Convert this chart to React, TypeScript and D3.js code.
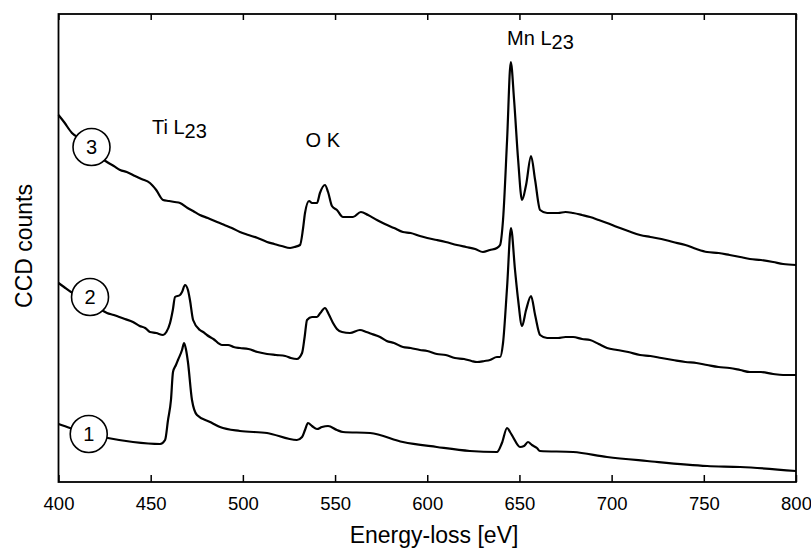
import React, { useEffect, useRef } from "react";
import * as d3 from "d3";

// energy-loss [eV], counts (arbitrary units)
const spectrum1: [number, number][] = [
  [400, 58], [406.2, 54], [417.1, 48], [426.8, 44], [440.4, 40], [455.1, 38],
  [457.8, 42], [459.4, 62], [461, 82], [462.1, 110], [463.7, 117], [464.8, 122],
  [467, 132], [468.1, 139], [469.2, 132], [470.2, 120], [472.4, 82], [475.1, 67],
  [482.2, 60], [487.6, 55], [498.4, 51], [513.1, 49], [529.3, 42], [532.1, 45],
  [533.7, 52], [535.3, 59], [537.5, 56], [540.2, 53], [542.9, 55], [546.2, 56],
  [551, 52], [554.3, 50], [569, 49], [586.8, 40], [605.2, 35], [623.1, 31],
  [637.8, 30], [640.5, 39], [643.3, 54], [644.9, 50], [646.5, 45], [650.3, 35],
  [652.5, 36], [654.6, 40], [656.8, 37], [659.5, 34], [661.1, 31], [679.1, 30],
  [697.5, 25], [719.2, 21], [751.8, 16], [769.7, 15], [800, 11],
];

const spectrum2: [number, number][] = [
  [400, 199], [403, 195], [406.8, 190], [412, 186], [417.1, 180], [421, 175],
  [426.3, 169], [430, 167], [433, 165], [436, 163], [440.4, 160], [444, 156],
  [447, 154], [449.6, 150], [453, 149], [456.7, 147], [458.5, 150], [460.5, 159],
  [462, 172], [463.2, 185], [465.9, 187], [467, 190], [468.6, 197], [470.2, 192],
  [471.3, 182], [473, 162], [476.7, 152], [478.5, 150], [480.5, 147], [484, 143],
  [488.7, 137], [492, 137], [495, 135], [498.4, 134], [503, 133], [508, 130],
  [513.1, 128], [518, 127], [523, 126], [526, 124], [529.3, 123], [532.1, 129],
  [533.5, 145], [534.8, 162], [537.5, 165], [540.2, 165], [542, 169], [544.5, 174],
  [546.5, 168], [548.9, 159], [551, 153], [553.8, 150], [558.1, 149], [563.5, 152],
  [567, 150], [570, 148], [574.4, 145], [578, 141], [582, 139], [586.8, 135],
  [591, 134], [596, 132], [600, 131], [605.2, 128], [610, 127], [615, 124],
  [620, 123], [624, 121], [627, 120], [631, 121], [634, 122], [637.8, 125],
  [639.5, 125], [641.1, 139], [643.3, 195], [645.4, 254], [647.6, 212], [649.3, 182],
  [651.4, 156], [653.6, 172], [656.3, 186], [658.5, 167], [661.2, 147], [665, 144],
  [671, 144], [675, 145], [679.1, 145], [684, 143], [688.3, 142], [693, 138],
  [697.5, 134], [703, 132], [709, 130], [715.4, 127], [721, 126], [727, 124],
  [733.3, 122], [740, 120], [746, 119], [751.8, 117], [758, 115], [764, 114],
  [769.7, 112], [775, 110], [781, 110], [787.6, 108], [793, 107], [800, 107],
];

const spectrum3: [number, number][] = [
  [400, 367], [403, 360], [407.3, 349], [412, 343], [417.1, 335], [421, 327],
  [426.3, 320], [430, 316], [433.4, 312], [437, 310], [441.5, 306], [445, 303],
  [449.6, 299], [453, 292], [456.7, 282], [460, 281], [463, 280], [465.9, 279],
  [470, 274], [473, 271], [476.7, 267], [481, 264], [486, 260], [490, 257],
  [494, 254], [498.4, 250], [503, 247], [508, 244], [513.1, 240], [517, 238],
  [521, 236], [525.6, 234], [528, 235], [531, 237], [532.6, 253], [533.7, 269],
  [535.9, 281], [537.5, 279], [540.2, 279], [541.8, 289], [544.5, 297], [546.2, 290],
  [548.3, 276], [551, 272], [554.3, 265], [559.7, 265], [564, 270], [567.9, 267],
  [572.7, 262], [577, 258], [582, 254], [586.8, 250], [591, 249], [596, 246],
  [600, 244], [605.2, 242], [610, 240], [616.1, 237], [621, 235], [626, 233],
  [630.2, 230], [634, 232], [637.8, 234], [639.5, 237], [641.1, 262], [643.3, 342],
  [645.3, 420], [647.1, 382], [649.3, 322], [651.4, 282], [653.6, 297], [656.3, 326],
  [658.5, 302], [661.2, 272], [665, 269], [671, 269], [675, 270], [679.1, 269],
  [684, 267], [688.3, 265], [693, 262], [697.5, 259], [703, 255], [709, 251],
  [715.4, 247], [721, 245], [727, 243], [733.3, 240], [740, 237], [746, 233],
  [751.8, 230], [758, 229], [764, 227], [769.7, 225], [775, 223], [781, 222],
  [787.6, 220], [793, 218], [800, 217],
];

const spectra = [spectrum1, spectrum2, spectrum3];

// numbered circle markers: [energy, counts, label]
const markers: [number, number, string][] = [
  [416.4, 48, "1"],
  [417.1, 185, "2"],
  [417.9, 335, "3"],
];

// edge labels: [energy, counts, element, subscript]
const edges: [number, number, string, string][] = [
  [450.7, 348, "Ti L", "23"],
  [534, 335, "O K", ""],
  [643.3, 437, "Mn L", "23"],
];

const xTicks = [400, 450, 500, 550, 600, 650, 700, 750, 800];

const App = () => {
  const ref = useRef<SVGSVGElement>(null);

  useEffect(() => {
    drawChart();
  }, []);

  const drawChart = () => {
    const svg = d3.select(ref.current);
    svg.selectAll("*").remove();
    const font = "'Liberation Sans', Arial, sans-serif";

    const left = 58.5;
    const right = 796;
    const top = 14;
    const bottom = 482;

    const x = d3.scaleLinear().domain([400, 800]).range([left, right]);
    const y = d3.scaleLinear().domain([0, 468]).range([bottom, top]);

    const line = d3
      .line<[number, number]>()
      .x((d) => x(d[0]))
      .y((d) => y(d[1]))
      .curve(d3.curveMonotoneX);

    // spectra
    svg
      .selectAll(".spec")
      .data(spectra)
      .enter()
      .append("path")
      .attr("class", "spec")
      .attr("fill", "none")
      .attr("stroke", "#000")
      .attr("stroke-width", 2.2)
      .attr("stroke-linejoin", "round")
      .attr("d", (d) => line(d));

    // frame
    svg
      .append("rect")
      .attr("x", left)
      .attr("y", top)
      .attr("width", right - left)
      .attr("height", bottom - top)
      .attr("fill", "none")
      .attr("stroke", "#000")
      .attr("stroke-width", 1.8);

    // bottom axis, ticks pointing in
    const xAxis = svg
      .append("g")
      .attr("transform", `translate(0,${bottom})`)
      .call(d3.axisBottom(x).tickValues(xTicks).tickSize(-7).tickPadding(0).tickSizeOuter(0));
    xAxis.select(".domain").remove();
    xAxis.selectAll(".tick line").attr("stroke", "#000").attr("stroke-width", 1.5);
    xAxis
      .selectAll(".tick text")
      .attr("y", 28)
      .attr("dy", 0)
      .attr("font-family", font)
      .attr("font-size", 18.5)
      .attr("fill", "#000");

    // top ticks
    const topAxis = svg
      .append("g")
      .attr("transform", `translate(0,${top})`)
      .call(d3.axisTop(x).tickValues(xTicks).tickSize(-6).tickFormat(() => "").tickSizeOuter(0));
    topAxis.select(".domain").remove();
    topAxis.selectAll(".tick line").attr("stroke", "#000").attr("stroke-width", 1.5);

    // axis titles
    svg
      .append("text")
      .attr("x", 434)
      .attr("y", 543)
      .attr("text-anchor", "middle")
      .attr("font-family", font)
      .attr("font-size", 23)
      .text("Energy-loss [eV]");

    svg
      .append("text")
      .attr("transform", `translate(32,246) rotate(-90)`)
      .attr("text-anchor", "middle")
      .attr("font-family", font)
      .attr("font-size", 23)
      .text("CCD counts");

    // edge labels
    edges.forEach(([e, c, main, sub]) => {
      const t = svg
        .append("text")
        .attr("x", x(e))
        .attr("y", y(c))
        .attr("font-family", font)
        .attr("font-size", 20);
      t.append("tspan").text(main);
      if (sub) t.append("tspan").attr("dy", 4).text(sub);
    });

    // numbered circles
    const m = svg.selectAll(".marker").data(markers).enter().append("g").attr("class", "marker");
    m.append("circle")
      .attr("cx", (d) => x(d[0]))
      .attr("cy", (d) => y(d[1]))
      .attr("r", 18.5)
      .attr("fill", "#fff")
      .attr("stroke", "#000")
      .attr("stroke-width", 1.6);
    m.append("text")
      .attr("x", (d) => x(d[0]))
      .attr("y", (d) => y(d[1]) + 7)
      .attr("text-anchor", "middle")
      .attr("font-family", font)
      .attr("font-size", 20)
      .text((d) => d[2]);
  };

  return (
    <svg
      ref={ref}
      width={811}
      height={549}
      style={{ position: "absolute", left: 0, top: 0, background: "#fff" }}
    />
  );
};

export default App;
